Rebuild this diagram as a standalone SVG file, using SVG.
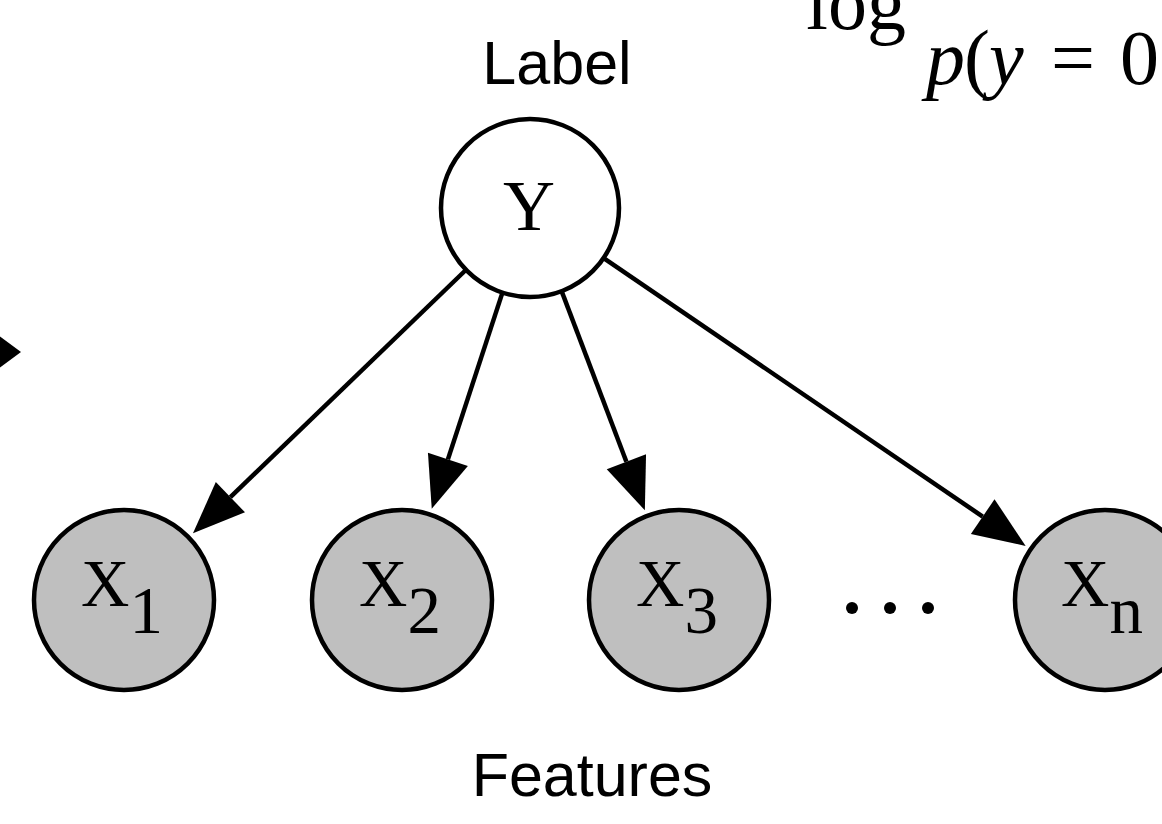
<svg xmlns="http://www.w3.org/2000/svg" width="1162" height="824" viewBox="0 0 1162 824">
<style>
.sans{font-family:"Liberation Sans",Arial,sans-serif;font-size:61px;fill:#000;text-anchor:middle}
.serif{font-family:"Liberation Serif","Times New Roman",serif;fill:#000}
.node{stroke:#000;stroke-width:4.5}
.obs{fill:#bfbfbf}
.lat{fill:#fff}
.edge{stroke:#000;stroke-width:4.5;fill:none;marker-end:url(#ah)}
.lbl{font-size:67px}
.math{font-size:78px}
</style>
<defs>
<marker id="ah" markerUnits="userSpaceOnUse" markerWidth="52" markerHeight="42" viewBox="0 0 52 42" refX="0" refY="21" orient="auto" overflow="visible">
<path d="M0,0 L52,21 L0,42 Z" fill="#000"/>
</marker>
</defs>
<rect width="1162" height="824" fill="#fff"/>
<g id="math">
<text class="serif math" x="906" y="29" text-anchor="end">log</text>
<text class="serif math" y="84"><tspan x="926" font-style="italic">p</tspan><tspan x="964">(</tspan><tspan x="989" font-style="italic">y</tspan><tspan x="1051">=</tspan><tspan x="1120">0</tspan></text>
</g>
<g id="label-title"><text class="sans" x="557" y="84">Label</text></g>
<g id="features-title"><text class="sans" x="592" y="796">Features</text></g>
<g id="connectors">
<path d="M-40,352 L-10,352" stroke="#000" stroke-width="4.5"/>
<polygon points="21,352 -10,329 -10,375" fill="#000"/>
<line class="edge" x1="465.3" y1="270.5" x2="230.4" y2="497.2"/>
<line class="edge" x1="502.1" y1="293.6" x2="447.9" y2="459.4"/>
<line class="edge" x1="562.0" y1="292.1" x2="626.4" y2="461.7"/>
<line class="edge" x1="604.4" y1="258.7" x2="982.7" y2="516.6"/>
</g>
<g id="node-Y">
<circle class="node lat" cx="530" cy="208" r="89"/>
<text class="serif" font-size="72" x="529" y="230" text-anchor="middle">Y</text>
</g>
<g id="node-X1">
<circle class="node obs" cx="124" cy="600" r="90"/>
<text class="serif lbl" x="81" y="606">X<tspan dy="27">1</tspan></text>
</g>
<g id="node-X2">
<circle class="node obs" cx="402" cy="600" r="90"/>
<text class="serif lbl" x="359" y="606">X<tspan dy="27">2</tspan></text>
</g>
<g id="node-X3">
<circle class="node obs" cx="679" cy="600" r="90"/>
<text class="serif lbl" x="636" y="606">X<tspan dy="27">3</tspan></text>
</g>
<g id="dots">
<circle cx="852" cy="608" r="6" fill="#000"/>
<circle cx="890" cy="608" r="6" fill="#000"/>
<circle cx="928" cy="608" r="6" fill="#000"/>
</g>
<g id="node-Xn">
<circle class="node obs" cx="1105" cy="600" r="90"/>
<text class="serif lbl" x="1061" y="606">X<tspan dy="27">n</tspan></text>
</g>
</svg>
